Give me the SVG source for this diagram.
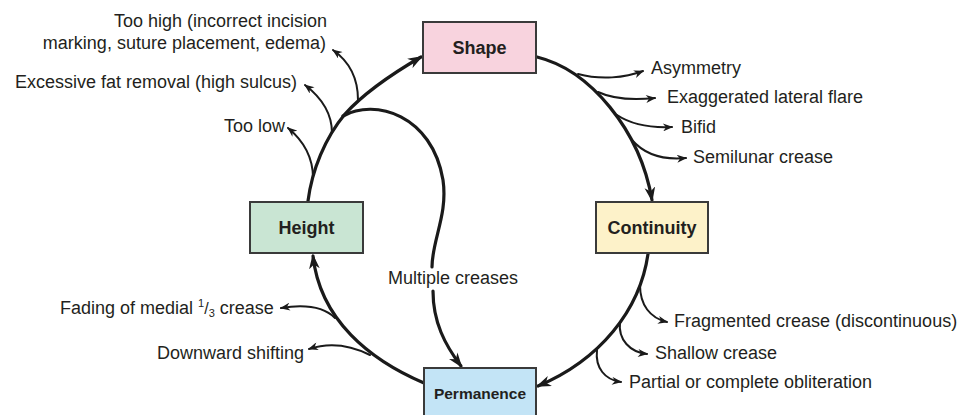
<svg xmlns="http://www.w3.org/2000/svg" width="962" height="415" viewBox="0 0 962 415">
<defs>
<style>
.box{stroke:#3a3a3a;stroke-width:2}
.nl{font-family:"Liberation Sans",Arial,sans-serif;font-weight:bold;font-size:18px;fill:#231f20;text-anchor:middle}
.lb{font-family:"Liberation Sans",Arial,sans-serif;font-size:18px;fill:#231f20}
.main{fill:none;stroke:#1a1a1a;stroke-width:3.2;stroke-linecap:round}
.br{fill:none;stroke:#1a1a1a;stroke-width:2;stroke-linecap:round}
</style>
<marker id="ab" viewBox="0 0 14 10" refX="12" refY="5" markerWidth="15" markerHeight="11" markerUnits="userSpaceOnUse" orient="auto">
<path d="M0,0 L14,5 L0,10 L4,5 z" fill="#1a1a1a"/>
</marker>
<marker id="as" viewBox="0 0 10 8" refX="9" refY="4" markerWidth="11" markerHeight="8" markerUnits="userSpaceOnUse" orient="auto">
<path d="M0,0 L10,4 L0,8 L3,4 z" fill="#1a1a1a"/>
</marker>
</defs>
<rect width="962" height="415" fill="#ffffff"/>
<g id="connectors">
<path class="main" d="M308,201 C312,170 325,138 345,114 C365,92 390,75 421,57" marker-end="url(#ab)"/>
<path class="br" d="M313,178 C313,160 305,142 288,128" marker-end="url(#as)"/>
<path class="br" d="M332,133 C332,115 322,98 305,85" marker-end="url(#as)"/>
<path class="br" d="M358,100 C358,80 350,62 333,50" marker-end="url(#as)"/>
<path class="main" d="M343,116 C375,98 432,115 443,180 C448,215 432,240 432,267"/>
<path class="main" d="M433,291 C433,322 445,345 461,366" marker-end="url(#ab)"/>
<path class="main" d="M537,57 C590,70 640,130 652,200" marker-end="url(#ab)"/>
<path class="br" d="M578,74 C600,80 625,78 643,71" marker-end="url(#as)"/>
<path class="br" d="M598,92 C615,100 635,100 655,98" marker-end="url(#as)"/>
<path class="br" d="M617,115 C632,125 650,128 672,127" marker-end="url(#as)"/>
<path class="br" d="M632,140 C645,155 665,160 686,158" marker-end="url(#as)"/>
<path class="main" d="M648,254 C640,310 600,360 538,386" marker-end="url(#ab)"/>
<path class="br" d="M640,285 C640,305 650,318 667,322" marker-end="url(#as)"/>
<path class="br" d="M620,322 C618,340 630,352 647,354" marker-end="url(#as)"/>
<path class="br" d="M597,350 C595,368 605,380 621,382" marker-end="url(#as)"/>
<path class="main" d="M424,383 C370,360 320,320 313,256" marker-end="url(#ab)"/>
<path class="br" d="M335,318 C322,305 300,305 281,308" marker-end="url(#as)"/>
<path class="br" d="M370,355 C350,345 330,342 309,349" marker-end="url(#as)"/>
</g>
<g id="node-shape">
<rect class="box" x="423" y="22" width="113" height="51" fill="#f8d3de"/>
<text class="nl" x="479.5" y="54">Shape</text>
</g>
<g id="node-height">
<rect class="box" x="250" y="202" width="113" height="51" fill="#c9e5d3"/>
<text class="nl" x="306.5" y="234">Height</text>
</g>
<g id="node-continuity">
<rect class="box" x="596" y="202" width="112" height="51" fill="#fdf2c9"/>
<text class="nl" x="652" y="234">Continuity</text>
</g>
<g id="node-permanence">
<rect class="box" x="424" y="368" width="112" height="52" fill="#c3e4f6"/>
<text class="nl" x="480" y="399" style="font-size:15.5px">Permanence</text>
</g>
<g id="labels">
<text class="lb" x="327" y="27" text-anchor="end">Too high (incorrect incision</text>
<text class="lb" x="326" y="49" text-anchor="end">marking, suture placement, edema)</text>
<text class="lb" x="297" y="88" text-anchor="end">Excessive fat removal (high sulcus)</text>
<text class="lb" x="285" y="132" text-anchor="end">Too low</text>
<text class="lb" x="60" y="314">Fading of medial <tspan font-size="11" dy="-7">1</tspan><tspan dy="7" font-size="16">/</tspan><tspan font-size="11" dy="3">3</tspan><tspan dy="-3"> crease</tspan></text>
<text class="lb" x="304" y="359" text-anchor="end">Downward shifting</text>
<text class="lb" x="651" y="74">Asymmetry</text>
<text class="lb" x="667" y="103">Exaggerated lateral flare</text>
<text class="lb" x="681" y="133" font-size="16">Bifid</text>
<text class="lb" x="693" y="163">Semilunar crease</text>
<text class="lb" x="388" y="284">Multiple creases</text>
<text class="lb" x="674" y="327">Fragmented crease (discontinuous)</text>
<text class="lb" x="655" y="359">Shallow crease</text>
<text class="lb" x="629" y="388">Partial or complete obliteration</text>
</g>
</svg>
